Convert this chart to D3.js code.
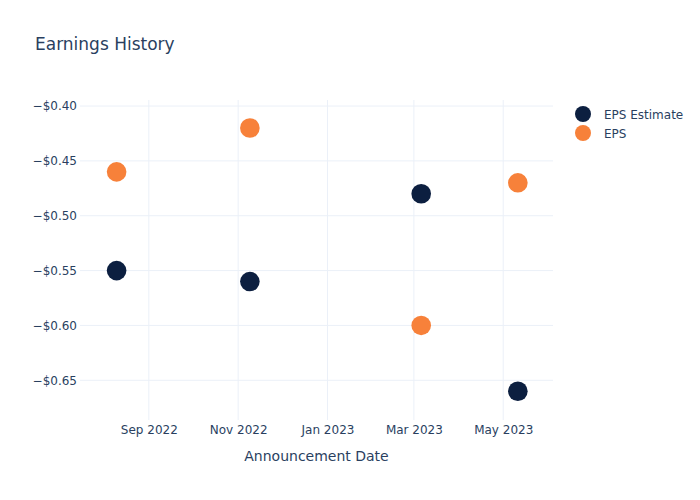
<!DOCTYPE html>
<html>
<head>
<meta charset="utf-8">
<script src="https://cdn.jsdelivr.net/npm/d3@7/dist/d3.min.js"></script>
<style>
  body { margin: 0; background: #fff; }
  svg { display: block; font-family: "DejaVu Sans", Verdana, sans-serif; }
</style>
</head>
<body>
<svg id="chart" width="700" height="500"></svg>
<script>
const dates = ["2022-08-10", "2022-11-09", "2023-03-06", "2023-05-11"];
const epsEstimate = [-0.55, -0.56, -0.48, -0.66];
const eps = [-0.46, -0.42, -0.60, -0.47];
const yTicks = [-0.40, -0.45, -0.50, -0.55, -0.60, -0.65];
const xTicks = ["2022-09-01", "2022-11-01", "2023-01-01", "2023-03-01", "2023-05-01"];
const seriesNames = ["EPS Estimate", "EPS"];
const seriesColors = ["#0c1f40", "#f7813a"];

const parse = d3.utcParse("%Y-%m-%d");
const svg = d3.select("#chart");
const m = { left: 80, right: 147, top: 100, bottom: 80 };
const W = 700, H = 500;

const x = d3.scaleUtc()
  .domain([parse("2022-07-16"), parse("2023-06-04")])
  .range([m.left, W - m.right]);
const y = d3.scaleLinear()
  .domain([-0.6862, -0.3945])
  .range([H - m.bottom, m.top]);

const textColor = "#2a3f5f";
const gridColor = "#ebf0f8";

// grid
svg.append("g").selectAll("line").data(xTicks).join("line")
  .attr("x1", d => x(parse(d))).attr("x2", d => x(parse(d)))
  .attr("y1", m.top).attr("y2", H - m.bottom)
  .attr("stroke", gridColor).attr("stroke-width", 1);
svg.append("g").selectAll("line").data(yTicks).join("line")
  .attr("x1", m.left).attr("x2", W - m.right)
  .attr("y1", d => y(d)).attr("y2", d => y(d))
  .attr("stroke", gridColor).attr("stroke-width", 1);

// axes via d3 axis
const fmtY = d3.format("$.2f");
const yAxis = svg.append("g").attr("transform", `translate(${m.left},0)`)
  .call(d3.axisLeft(y).tickValues(yTicks).tickFormat(fmtY).tickSize(0).tickPadding(3));
yAxis.select(".domain").remove();
yAxis.selectAll("text").attr("fill", textColor).style("font-size", "12px")
  .style("font-family", "'DejaVu Sans', Verdana, sans-serif");

const fmtX = d3.utcFormat("%b %Y");
const xAxis = svg.append("g").attr("transform", `translate(0,${H - m.bottom})`)
  .call(d3.axisBottom(x).tickValues(xTicks.map(parse)).tickFormat(fmtX).tickSize(0).tickPadding(5));
xAxis.select(".domain").remove();
xAxis.selectAll("text").attr("fill", textColor).style("font-size", "12px")
  .style("font-family", "'DejaVu Sans', Verdana, sans-serif");

// axis title
svg.append("text")
  .attr("x", (m.left + W - m.right) / 2).attr("y", 461)
  .attr("text-anchor", "middle").attr("fill", textColor)
  .style("font-size", "14px").text("Announcement Date");

// title
svg.append("text").attr("x", 35).attr("y", 50)
  .attr("fill", textColor).style("font-size", "17px").text("Earnings History");

// points
const series = [epsEstimate, eps];
series.forEach((vals, i) => {
  svg.append("g").selectAll("circle").data(vals.map((v, j) => ({ d: dates[j], v })))
    .join("circle")
    .attr("cx", d => x(parse(d.d))).attr("cy", d => y(d.v))
    .attr("r", 9.8).attr("fill", seriesColors[i]);
});

// legend
const leg = svg.append("g");
seriesNames.forEach((n, i) => {
  const yy = 114 + i * 19;
  leg.append("circle").attr("cx", 583).attr("cy", yy).attr("r", 8).attr("fill", seriesColors[i]);
  leg.append("text").attr("x", 604).attr("y", yy + 4.5).attr("fill", textColor)
    .style("font-size", "12px").text(n);
});
</script>
</body>
</html>
